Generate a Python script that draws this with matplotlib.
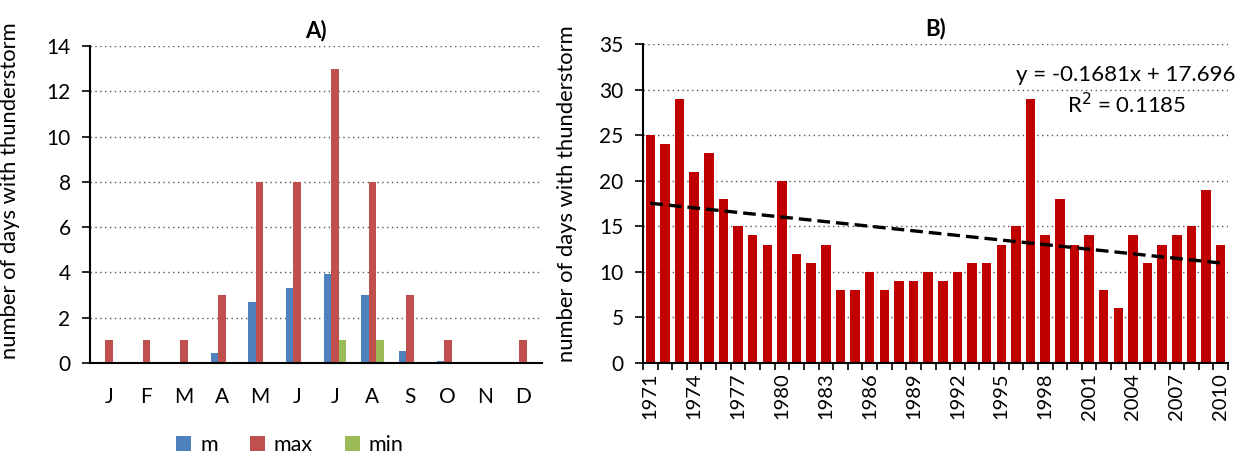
import numpy as np
import matplotlib
matplotlib.use("Agg")
import matplotlib.pyplot as plt

plt.rcParams['font.family'] = ['Lato', 'DejaVu Sans']

# Panel A: monthly statistics
months = ['J', 'F', 'M', 'A', 'M', 'J', 'J', 'A', 'S', 'O', 'N', 'D']
m_vals = [0, 0, 0, 0.45, 2.7, 3.3, 3.95, 3.0, 0.55, 0.1, 0, 0]
max_vals = [1, 1, 1, 3, 8, 8, 13, 8, 3, 1, 0, 1]
min_vals = [0, 0, 0, 0, 0, 0, 1, 1, 0, 0, 0, 0]

# Panel B: yearly totals
years = list(range(1971, 2011))
days = [25, 24, 29, 21, 23, 18, 15, 14, 13, 20,
        12, 11, 13, 8, 8, 10, 8, 9, 9, 10,
        9, 10, 11, 11, 13, 15, 29, 14, 18, 13,
        14, 8, 6, 14, 11, 13, 14, 15, 19, 13]
slope, intercept = -0.1681, 17.696
r2 = 0.1185

fig = plt.figure(figsize=(12.47, 4.58), dpi=100)
axA = fig.add_axes([90 / 1247, 1 - 363 / 458, 452 / 1247, 317 / 458])
axB = fig.add_axes([643 / 1247, 1 - 363 / 458, 585 / 1247, 319 / 458])

grid_kw = dict(color='#555555', linestyle=(0, (1, 2.5)), linewidth=1.0)

# ---- A ----
x = np.arange(len(months))
w = 0.2
axA.bar(x - w, m_vals, w, color='#4F81BD', label='m')
axA.bar(x, max_vals, w, color='#C0504D', label='max')
axA.bar(x + w, min_vals, w, color='#9BBB59', label='min')
axA.set_xlim(-0.5, len(months) - 0.5)
axA.set_ylim(0, 14)
axA.set_yticks(range(0, 15, 2))
axA.set_xticks(x)
axA.set_xticklabels(months)
axA.set_axisbelow(True)
axA.yaxis.grid(True, **grid_kw)
axA.set_ylabel('number of days with thunderstorm', fontsize=15.8)
axA.yaxis.set_label_coords(-0.155, 0.543)
axA.set_title('A)', fontsize=16, fontweight='bold', pad=6)
fig.legend(loc='center', bbox_to_anchor=(290 / 1247, 0.028), ncol=3, frameon=False,
           fontsize=15.5, handlelength=0.7, handleheight=0.7, columnspacing=1.5,
           handletextpad=0.4)
axA.tick_params(axis='x', length=0, labelsize=15, pad=17)

# ---- B ----
xb = np.arange(1, len(years) + 1)
axB.bar(xb, days, 0.65, color='#C00000')
xt = np.array([xb[0], xb[-1]])
axB.plot(xt, slope * xt + intercept, color='black', linestyle=(0, (3.8, 1.8)), linewidth=2.4)
axB.set_xlim(0.5, len(years) + 0.5)
axB.set_ylim(0, 35)
axB.set_yticks(range(0, 36, 5))
axB.set_xticks(xb[::3])
axB.set_xticklabels([str(y) for y in years[::3]], rotation=90)
axB.set_xticks(np.arange(0.5, len(years) + 1, 1), minor=True)
axB.tick_params(axis='x', which='major', length=0, labelsize=14.5, pad=7)
axB.tick_params(axis='x', which='minor', length=5, width=1.2, direction='out')
axB.set_axisbelow(True)
axB.yaxis.grid(True, **grid_kw)
axB.set_ylabel('number of days with thunderstorm', fontsize=15.8)
axB.yaxis.set_label_coords(-0.113, 0.53)
axB.set_title('B)', fontsize=16, fontweight='bold', pad=6)
axB.text(0.826, 31.6, f'y = {slope}x + {intercept}', transform=axB.get_yaxis_transform(),
         ha='center', va='center', fontsize=16)
axB.text(0.826, 28.3, f'R$^2$ = {r2}', transform=axB.get_yaxis_transform(),
         ha='center', va='center', fontsize=16)

for ax in (axA, axB):
    for s in ('top', 'right'):
        ax.spines[s].set_visible(False)
    ax.spines['left'].set_linewidth(1.5)
    ax.spines['bottom'].set_linewidth(1.5)
    ax.tick_params(axis='y', labelsize=15, length=6, width=1.2, direction='out', pad=8)

fig.savefig('out.png', dpi=100)
